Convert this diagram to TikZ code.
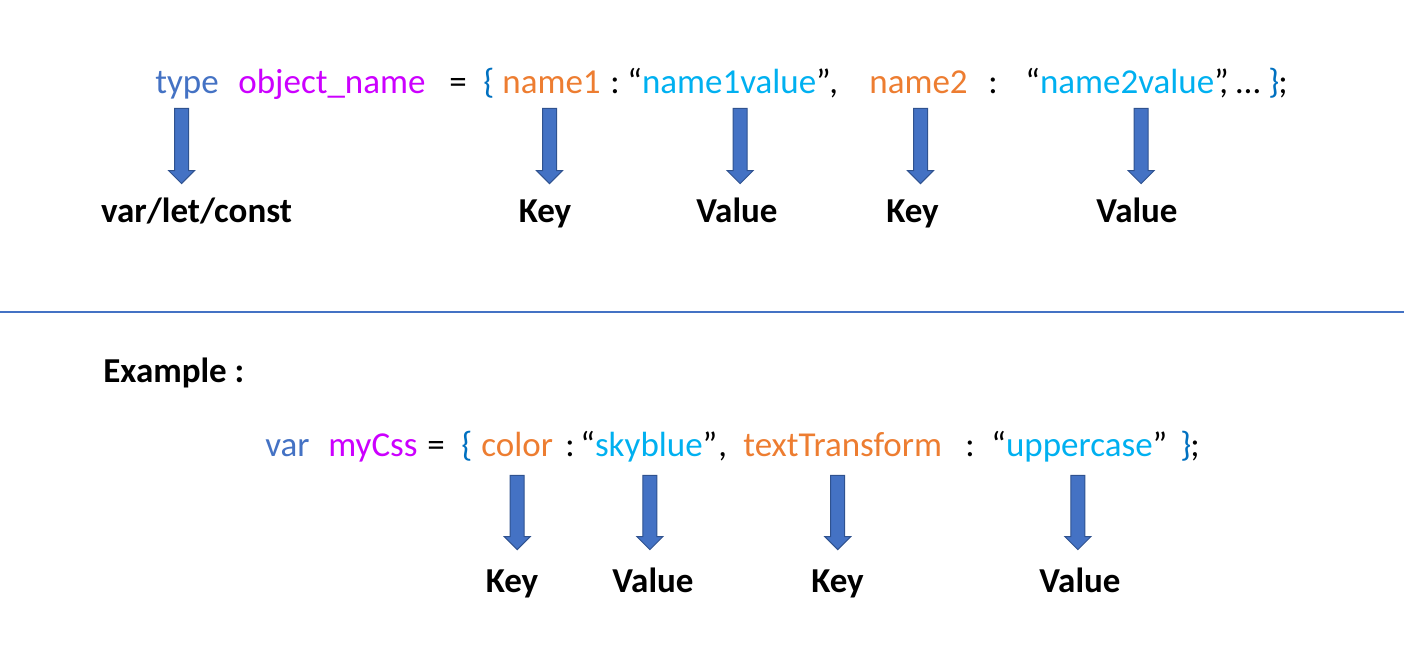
\documentclass[tikz,border=0pt]{standalone}
\usepackage{fontspec}
\setmainfont{Carlito}
\usetikzlibrary{calc}
\definecolor{typeblue}{HTML}{4472C4}
\definecolor{objpurple}{HTML}{CC00FF}
\definecolor{keyorange}{HTML}{ED7D31}
\definecolor{valcyan}{HTML}{00B0F0}
\definecolor{bracedark}{HTML}{0070C0}
\definecolor{arrowedge}{HTML}{2F528F}
\tikzset{
  code/.style={anchor=base west, inner sep=0pt, text height=0pt, text depth=0pt,
    font=\fontsize{17.5}{21}\selectfont},
  lbl/.style={anchor=base, inner sep=0pt, text height=0pt, text depth=0pt,
    font=\fontsize{17.5}{21}\selectfont\bfseries},
  blockarrow/.style={draw=arrowedge, fill=typeblue, line width=0.5pt,
    to path={let \p1=(\tikztostart), \p2=(\tikztotarget) in
      (\x1-3.5pt,\y1) -- (\x1+3.5pt,\y1) -- (\x1+3.5pt,\y2+6.5pt) -- (\x1+6.5pt,\y2+6.5pt)
      -- (\x1,\y2) -- (\x1-6.5pt,\y2+6.5pt) -- (\x1-3.5pt,\y2+6.5pt) -- cycle}}
}

\begin{document}
\begin{tikzpicture}[x=0.5pt, y=-0.5pt]
    \useasboundingbox (0,0) rectangle (1404,666);

    % General form
    \node[code, typeblue]  (type)    at (155,93)  {type};
    \node[code, objpurple] (objname) at (238,93)  {object\_name};
    \node[code]            (eq1)     at (449,93)  {=};
    \node[code, bracedark] (lb1)     at (483,93)  {\{};
    \node[code, keyorange] (key1)    at (502,93)  {name1};
    \node[code]            (col1)    at (610,93)  {:};
    \node[code]            (val1)    at (627,93)  {“{\color{valcyan}name1value}”};
    \node[code]            (com1)    at (829,93)  {,};
    \node[code, keyorange] (key2)    at (869,93)  {name2};
    \node[code]            (col2)    at (988,93)  {:};
    \node[code]            (val2)    at (1025,93) {“{\color{valcyan}name2value}”};
    \node[code]            (com2)    at (1219,93) {, …};
    \node[code, bracedark] (rb1)     at (1268,93) {\}};
    \node[code]            (semi1)   at (1278,93) {;};

    % Meaning of each part
    \node[lbl] (vlc)   at (196.5,222) {var/let/const};
    \node[lbl] (klab1) at (545,222)   {Key};
    \node[lbl] (vlab1) at (737,222)   {Value};
    \node[lbl] (klab2) at (912.5,222) {Key};
    \node[lbl] (vlab2) at (1137,222)  {Value};

    % Separator
    \draw[typeblue, line width=0.6pt] (0,312) -- (1404,312);

    % Example
    \node[code, font=\fontsize{17.5}{21}\selectfont\bfseries] (example) at (103,382) {Example :};

    \node[code, typeblue]  (var)   at (265,456)  {var};
    \node[code, objpurple] (mycss) at (328,456)  {myCss};
    \node[code]            (eq2)   at (427,456)  {=};
    \node[code, bracedark] (lb2)   at (461,456)  {\{};
    \node[code, keyorange] (key3)  at (481,456)  {color};
    \node[code]            (col3)  at (565,456)  {:};
    \node[code]            (val3)  at (580,456)  {“{\color{valcyan}skyblue}”};
    \node[code]            (com3)  at (718,456)  {,};
    \node[code, keyorange] (key4)  at (743,456)  {textTransform};
    \node[code]            (col4)  at (965,456)  {:};
    \node[code]            (val4)  at (991,456)  {“{\color{valcyan}uppercase}”};
    \node[code, bracedark] (rb2)   at (1180,456) {\}};
    \node[code]            (semi2) at (1190,456) {;};

    \node[lbl] (klab3) at (512,592)    {Key};
    \node[lbl] (vlab3) at (653,592)    {Value};
    \node[lbl] (klab4) at (837.5,592)  {Key};
    \node[lbl] (vlab4) at (1080,592)   {Value};

    % Arrows from code to labels
    \foreach \w/\l/\dx/\dy/\dt in {type/vlc/-5.5/14/37, key1/klab1/-2/14/37,
        val1/vlab1/11/14/37, key2/klab2/2/14/37, val2/vlab2/14/14/37,
        key3/klab3/0/18/41, val3/vlab3/1/18/41, key4/klab4/-5/18/41,
        val4/vlab4/-1.5/18/41} {
        \draw[blockarrow] ($(\w.south)+(\dx,\dy)$) to ($(\l.north)+(0,-\dt)$);
    }
\end{tikzpicture}
\end{document}
